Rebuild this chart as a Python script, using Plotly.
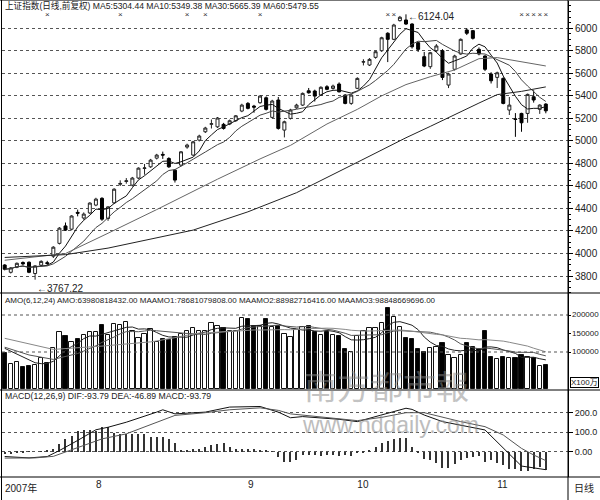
import plotly.graph_objects as go
import pandas as pd

# ---------------- data ----------------
opens = [3898,3833,3878,3920,3922,3822,3896,3918,3976,4090,
         4245,4216,4365,4315,4360,4430,4490,4311,4450,4615,
         4640,4607,4670,4755,4770,4847,4880,4844,4740,4785,
         4945,4874,5007,5081,5148,5125,5147,5150,5179,5265,
         5333,5309,5339,5383,5209,5363,5096,5200,5294,5318,
         5445,5443,5407,5481,5466,5505,5407,5333,5467,5700,
         5674,5742,5801,5956,5902,6068,6074,6038,5872,5748,
         5659,5801,5801,5496,5636,5772,5985,5979,5813,5754,
         5594,5564,5555,5274,5195,5244,5244,5392,5280,5327]
closes = [3860,3872,3913,3908,3833,3890,3930,3912,4056,4225,
          4208,4333,4358,4350,4448,4483,4305,4414,4571,4622,
          4645,4670,4758,4760,4829,4874,4874,4770,4652,4903,
          4963,4992,5043,5114,5152,5203,5111,5179,5223,5318,
          5289,5300,5398,5280,5354,5111,5170,5274,5318,5422,
          5427,5398,5476,5458,5487,5436,5333,5407,5555,5703,
          5724,5792,5916,5902,6029,6098,6038,5836,5813,5665,
          5783,5843,5564,5594,5754,5902,5956,5911,5772,5636,
          5534,5605,5333,5318,5191,5161,5413,5363,5318,5267]
highs = [3905,3880,3920,3930,3930,3895,3940,3935,4065,4235,
         4275,4340,4390,4365,4455,4495,4500,4420,4580,4650,
         4670,4680,4765,4795,4840,4885,4905,4855,4750,4910,
         4975,5000,5055,5125,5190,5212,5160,5190,5230,5330,
         5345,5320,5405,5395,5365,5390,5180,5285,5330,5430,
         5470,5455,5485,5495,5500,5520,5415,5415,5565,5725,
         5735,5800,5925,5965,6040,6110,6124.04,6045,5880,5790,
         5790,5860,5815,5605,5765,5910,6000,5985,5830,5760,
         5610,5615,5565,5390,5247,5250,5420,5450,5325,5335]
lows = [3850,3822,3870,3895,3825,3767.22,3885,3895,3960,4080,
        4200,4205,4330,4300,4350,4420,4290,4290,4440,4600,
        4620,4595,4660,4700,4760,4835,4840,4760,4630,4775,
        4930,4865,4995,5070,5110,5115,5100,5140,5170,5255,
        5280,5250,5330,5270,5200,5100,5031,5190,5285,5310,
        5420,5350,5400,5450,5455,5430,5325,5320,5460,5670,
        5665,5730,5790,5700,5895,6060,6030,5820,5790,5655,
        5640,5790,5540,5469,5625,5765,5940,5900,5760,5620,
        5510,5470,5325,5230,5036,5081,5161,5340,5240,5245]

# turnover, in units of 100万 (x1000)
amo_k = [98,67,74,60,62,65,83,69,110,155,
         144,128,134,146,153,153,173,146,175,173,
         180,158,139,150,161,128,134,132,140,149,
         157,164,157,157,179,170,164,157,157,191,
         188,170,170,188,168,170,150,141,159,168,
         170,153,146,153,146,144,107,101,143,158,
         164,166,179,220,195,168,137,135,107,101,
         112,113,124,92,85,93,124,113,108,158,
         87,80,87,83,83,92,86,84,63,64]

# turnover averages at the left edge, where their windows reach back before the chart (read, x1000)
mav6_head_idx = [0, 2, 4]
mav6_head_k = [110, 95, 78]
mav12_head_idx = [0, 4, 8]
mav12_head_k = [113, 92, 80]
mav24_head_idx = [0, 8, 16]
mav24_head_k = [137, 107, 116]

# MACD histogram read per candle
macd_hist = [-15,-12,-8,-3,-2,0,2,5,15,40,
             65,82,108,112,112,108,125,125,95,91,
             91,91,91,91,77,74,74,65,43,5,
             10,14,14,22,31,40,43,22,14,14,
             14,14,10,9,2,-30,-55,-55,-45,-20,
             -18,-20,-22,-18,-20,-25,-20,-25,-10,-3,
             5,22,45,55,65,70,70,22,-5,-38,
             -46,-60,-84,-84,-63,-46,-33,-29,-21,-55,
             -46,-60,-72,-89,-89,-98,-98,-89,-81,-93.79]

# DIF / DEA lines read at their bend points
dif_idx = [0,4,7,9,12,15,17,20,25,26,28,33,37,42,45,47,49,55,58,62,66,67,69,72,75,79,85,89]
dif_val = [-26,-33,-26,5,57,112,125,151,203,215,194,203,229,232,203,174,180,166,154,188,223,217,188,154,137,111,-75,-93.79]
dea_idx = [0,5,8,12,16,20,25,28,33,37,42,45,47,49,55,58,62,66,69,72,75,79,82,85,87,89]
dea_val = [-34,-33,-25,22,65,91,151,186,200,215,225,212,194,188,171,159,176,200,200,176,154,128,85,16,-18,-46.89]

# long moving averages read at bend points (their history lies before the chart)
ma30_idx = [0,10,17,25,35,42,47,53,58,62,66,70,74,78,81,84,87,89]
ma30_val = [3940,4000,4180,4390,4660,4840,4960,5150,5280,5400,5500,5570,5630,5730,5740,5710,5680,5665.39]
ma60_idx = [0,10,17,31,40,48,58,62,66,70,74,78,81,85,89]
ma60_val = [3965,3990,4048,4208,4370,4540,4810,4920,5028,5129,5235,5336,5411,5440,5479.55]

signal_idx = [7,19,30,33,42,63,64,85,86,87,88,89]

month_idx = [15, 40, 58, 81]
month_text = ["8", "9", "10", "11"]

price_ticks = list(range(3800, 6001, 200))
amo_ticks = [100000, 150000, 200000]
amo_tick_text = ["100000", "150000", "200000"]
amo_grid = [100000, 200000]
macd_ticks = [0, 100, 200]
macd_tick_text = ["0.00", "100.0", "200.0"]

title_price = "上证指数(日线,前复权) MA5:5304.44 MA10:5349.38 MA30:5665.39 MA60:5479.55"
title_amo = "AMO(6,12,24) AMO:63980818432.00 MAAMO1:78681079808.00 MAAMO2:88982716416.00 MAAMO3:98848669696.00"
title_macd = "MACD(12,26,9) DIF:-93.79 DEA:-46.89 MACD:-93.79"

# ---------------- derived ----------------
n = len(closes)
idx = list(range(n))
amo = [v * 1000 for v in amo_k]
cs = pd.Series(closes, dtype=float)
ma5 = cs.rolling(5, min_periods=1).mean()
ma10 = cs.rolling(10, min_periods=1).mean()
vs = pd.Series(amo, dtype=float)


def vol_ma(win, head_idx, head_k):
    full = vs.rolling(win).mean()
    xs = list(head_idx) + [i for i in idx if i >= win - 1]
    ys = [k * 1000 for k in head_k] + [full[i] for i in idx if i >= win - 1]
    return xs, ys


vol_mas = [vol_ma(6, mav6_head_idx, mav6_head_k),
           vol_ma(12, mav12_head_idx, mav12_head_k),
           vol_ma(24, mav24_head_idx, mav24_head_k)]
bar_cols = ["white" if c >= o else "black" for o, c in zip(opens, closes)]

# ---------------- geometry ----------------
W, H = 600, 500
L, R, T, B = 2, 32, 0, 23
PW, PH = W - L - R, H - T - B
STEP, X0 = 6.08, 4.7   # candle spacing / first candle centre in pixels


def py(y):
    return (H - B - y) / PH


def px(x):
    return (x - L) / PW


FONT = "Liberation Sans, Arial, Noto Sans CJK SC, sans-serif"
TXT = "#222222"

fig = go.Figure()

fig.add_trace(go.Candlestick(
    x=idx, open=opens, high=highs, low=lows, close=closes,
    increasing=dict(line=dict(color="#222222", width=1), fillcolor="white"),
    decreasing=dict(line=dict(color="#000000", width=1), fillcolor="#000000"),
    whiskerwidth=0, showlegend=False, hoverinfo="skip", xaxis="x", yaxis="y"))

for series, col in [(ma5, "#111111"), (ma10, "#444444")]:
    fig.add_trace(go.Scatter(x=idx, y=series, mode="lines", line=dict(color=col, width=1),
                             showlegend=False, hoverinfo="skip", xaxis="x", yaxis="y"))
fig.add_trace(go.Scatter(x=ma30_idx, y=ma30_val, mode="lines", line=dict(color="#666666", width=1),
                         showlegend=False, hoverinfo="skip", xaxis="x", yaxis="y"))
fig.add_trace(go.Scatter(x=ma60_idx, y=ma60_val, mode="lines", line=dict(color="#222222", width=1),
                         showlegend=False, hoverinfo="skip", xaxis="x", yaxis="y"))

fig.add_trace(go.Scatter(x=signal_idx, y=[6116] * len(signal_idx), mode="text", text=["×"] * len(signal_idx),
                         textfont=dict(size=8, color="#333333", family=FONT),
                         showlegend=False, hoverinfo="skip", xaxis="x", yaxis="y"))

fig.add_trace(go.Bar(x=idx, y=amo, width=0.7, marker=dict(color=bar_cols, line=dict(color="#111111", width=1)),
                     showlegend=False, hoverinfo="skip", xaxis="x", yaxis="y2"))
for (xs, ys), col in zip(vol_mas, ["#222222", "#555555", "#888888"]):
    fig.add_trace(go.Scatter(x=xs, y=ys, mode="lines", line=dict(color=col, width=1),
                             showlegend=False, hoverinfo="skip", xaxis="x", yaxis="y2"))

fig.add_trace(go.Bar(x=idx, y=macd_hist, width=0.18, marker=dict(color="#333333", line=dict(width=0)),
                     showlegend=False, hoverinfo="skip", xaxis="x", yaxis="y3"))
fig.add_trace(go.Scatter(x=dif_idx, y=dif_val, mode="lines", line=dict(color="#111111", width=1),
                         showlegend=False, hoverinfo="skip", xaxis="x", yaxis="y3"))
fig.add_trace(go.Scatter(x=dea_idx, y=dea_val, mode="lines", line=dict(color="#555555", width=1),
                         showlegend=False, hoverinfo="skip", xaxis="x", yaxis="y3"))

# axis ranges from the pixel geometry of the reference
p_top = 6000 + (28.3 - 0) / 22.52 * 200
p_bot = 6000 - (293 - 28.3) / 22.52 * 200
v_top = (389 - 293) / 37 * 100000
v_bot = (389 - 390) / 37 * 100000
m_top = (451.5 - 390) / 0.194
m_bot = (451.5 - 477) / 0.194


def yax(size, **kw):
    d = dict(side="right", showline=True, linecolor="#000000", linewidth=1,
             ticks="outside", ticklen=4, tickcolor="#000000",
             tickfont=dict(size=size, color=TXT, family=FONT),
             zeroline=False, fixedrange=True)
    d.update(kw)
    return d


fig.update_layout(
    width=W, height=H, margin=dict(l=L, r=R, t=T, b=B),
    paper_bgcolor="white", plot_bgcolor="white",
    bargap=0, barmode="overlay",
    xaxis=dict(range=[(L - X0) / STEP, (L + PW - X0) / STEP],
               anchor="y3", showgrid=False, zeroline=False, showline=False,
               tickvals=month_idx, ticktext=month_text, ticks="", ticklabelposition="outside right",
               tickfont=dict(size=10, color=TXT, family=FONT),
               rangeslider=dict(visible=False), fixedrange=True),
    yaxis=yax(10, domain=[py(293), 1], range=[p_bot, p_top], tickvals=price_ticks,
              showgrid=True, gridcolor="#555555", griddash="dot", gridwidth=1,
              minor=dict(ticks="outside", ticklen=2, dtick=50, tickcolor="#000000", showgrid=False)),
    yaxis2=yax(8, domain=[py(390), py(293)], range=[v_bot, v_top], tickmode="array", tickvals=amo_ticks,
               showticklabels=False, showgrid=False, ticklen=2),
    yaxis3=yax(9, domain=[0, py(390)], range=[m_bot, m_top], tickvals=macd_ticks, ticktext=macd_tick_text,
               showgrid=True, gridcolor="#555555", griddash="dot", gridwidth=1),
)

shapes = []
for g in amo_grid:
    shapes.append(dict(type="line", xref="paper", yref="y2", x0=0, x1=1, y0=g, y1=g,
                       line=dict(color="#555555", width=1, dash="dot")))
line_k = dict(color="#000000", width=1)
for yy in [293, 390, 477]:
    shapes.append(dict(type="line", xref="paper", yref="paper", x0=px(0), x1=px(600), y0=py(yy), y1=py(yy), line=line_k))
shapes.append(dict(type="line", xref="paper", yref="paper", x0=px(0), x1=px(600), y0=py(0.5), y1=py(0.5),
                   line=dict(color="#777777", width=1)))
shapes.append(dict(type="line", xref="paper", yref="paper", x0=px(1.5), x1=px(1.5), y0=py(0), y1=py(500), line=line_k))
shapes.append(dict(type="line", xref="paper", yref="paper", x0=px(568), x1=px(568), y0=py(0), y1=py(500), line=line_k))
fig.update_layout(shapes=shapes)

ann = []
# turnover axis labels, placed on the turnover axis
for v, t in zip(amo_ticks, amo_tick_text):
    ann.append(dict(text=t, x=px(571), y=v, xref="paper", yref="y2", xanchor="left", yanchor="middle",
                    showarrow=False, borderpad=0, font=dict(size=8, color=TXT, family=FONT)))
ann.append(dict(text=title_price, x=px(3), y=py(6), xref="paper", yref="paper", xanchor="left", yanchor="middle",
                showarrow=False, font=dict(size=8.6, color=TXT, family=FONT)))
ann.append(dict(text=title_amo, x=px(3), y=py(300), xref="paper", yref="paper", xanchor="left", yanchor="middle",
                showarrow=False, font=dict(size=8, color=TXT, family=FONT)))
ann.append(dict(text=title_macd, x=px(3), y=py(396), xref="paper", yref="paper", xanchor="left", yanchor="middle",
                showarrow=False, font=dict(size=8.7, color=TXT, family=FONT)))
ann.append(dict(text="X100万", x=px(584), y=py(382), xref="paper", yref="paper", xanchor="center", yanchor="middle",
                showarrow=False, bordercolor="#000000", borderwidth=1, borderpad=0,
                font=dict(size=8, color=TXT, family=FONT)))
ann.append(dict(text="2007年", x=px(3), y=py(488), xref="paper", yref="paper", xanchor="left", yanchor="middle",
                showarrow=False, font=dict(size=10, color=TXT, family=FONT)))
ann.append(dict(text="日线", x=px(584), y=py(488), xref="paper", yref="paper", xanchor="center", yanchor="middle",
                showarrow=False, font=dict(size=10, color=TXT, family=FONT)))
low_i = lows.index(min(lows))
ann.append(dict(text="←" + f"{min(lows):.2f}", x=low_i, y=min(lows), xref="x", yref="y", xanchor="left",
                yanchor="top", yshift=-1, showarrow=False, font=dict(size=10, color=TXT, family=FONT)))
hi_i = highs.index(max(highs))
ann.append(dict(text="←" + f"{max(highs):.2f}", x=hi_i, y=max(highs), xref="x", yref="y", xanchor="left",
                yanchor="top", yshift=5, showarrow=False, font=dict(size=10, color=TXT, family=FONT)))
ann.append(dict(text="南方都市報", x=px(303), y=py(410), xref="paper", yref="paper", xanchor="left", yanchor="bottom",
                showarrow=False, opacity=0.5, borderpad=0,
                font=dict(size=33, color="#888888", family="Noto Sans CJK TC")))
ann.append(dict(text="www.nddaily.com", x=px(301), y=py(411), xref="paper", yref="paper", xanchor="left",
                yanchor="top", showarrow=False, opacity=0.55, borderpad=0,
                font=dict(size=23, color="#888888", family="Liberation Sans")))
fig.update_layout(annotations=ann)

fig.write_html("out.html", config={"displayModeBar": False},
               post_script="document.body.style.margin='0px';document.body.style.overflow='hidden';")
